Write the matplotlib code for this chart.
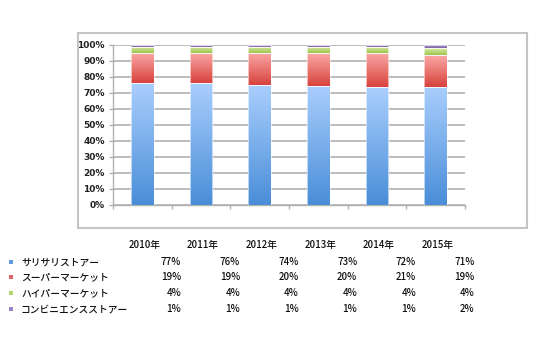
import numpy as np
import matplotlib
matplotlib.use("Agg")
import matplotlib.pyplot as plt
from matplotlib.colors import to_rgb
from matplotlib.patches import Rectangle

plt.rcParams['font.family'] = ['Noto Sans CJK JP', 'DejaVu Sans']

years = ['2010年', '2011年', '2012年', '2013年', '2014年', '2015年']
stores = ['サリサリストアー', 'スーパーマーケット', 'ハイパーマーケット', 'コンビニエンスストアー']
sari_sari = [77, 76, 74, 73, 72, 71]
supermarket = [19, 19, 20, 20, 21, 19]
hypermarket = [4, 4, 4, 4, 4, 4]
convenience = [1, 1, 1, 1, 1, 2]
series = [sari_sari, supermarket, hypermarket, convenience]

# (bottom, top) colours for the gradient fill of each series
grad = [('#4a8ed8', '#a9cefd'),
        ('#d8433d', '#fba9a7'),
        ('#9cc44c', '#dcefaa'),
        ('#7d62a8', '#bca6da')]
swatch = ['#5f9be0', '#e26664', '#b2d66a', '#9a82c8']


def gradient_bar(ax, x0, x1, y0, y1, c_bot, c_top):
    n = 64
    t = np.linspace(0, 1, n)[:, None, None]
    img = (1 - t) * np.array(to_rgb(c_bot)) + t * np.array(to_rgb(c_top))
    ax.imshow(img, extent=[x0, x1, y0, y1], origin='lower', aspect='auto',
              interpolation='bilinear', zorder=3)
    ax.add_patch(Rectangle((x0, y0), x1 - x0, y1 - y0, fill=False,
                           edgecolor='white', lw=0.6, alpha=0.7, zorder=4))


fig = plt.figure(figsize=(5.5, 3.5), dpi=100)

# outer chart frame
fig.add_artist(Rectangle((78 / 550, 1 - 228 / 350), 449 / 550, 195 / 350,
                         transform=fig.transFigure, fill=False,
                         edgecolor='#c4c4c4', lw=1.5))

ax = fig.add_axes([113 / 550, 145 / 350, 352 / 550, 160 / 350])
vals = np.array(series, dtype=float)
shares = vals / vals.sum(axis=0)
x = np.arange(len(years))
w = 0.39
bottom = np.zeros(len(years))
for k in range(len(series)):
    for i in range(len(years)):
        gradient_bar(ax, x[i] - w / 2, x[i] + w / 2, bottom[i],
                     bottom[i] + shares[k, i], grad[k][0], grad[k][1])
    bottom += shares[k]

ax.set_xlim(-0.5, len(years) - 0.5)
ax.set_ylim(0, 1)
ax.set_yticks(np.linspace(0, 1, 11))
ax.set_yticklabels([f'{int(round(v * 100))}%' for v in np.linspace(0, 1, 11)],
                   fontsize=6.5, color='#222222', family='DejaVu Sans',
                   fontweight='bold')
ax.set_xticks(np.arange(len(years) + 1) - 0.5)
ax.set_xticklabels([])
ax.tick_params(axis='y', length=3, width=1, color='#b0b0b0', pad=3)
ax.tick_params(axis='x', length=3, width=1, color='#b0b0b0', direction='out')
ax.grid(axis='y', color='#bdbdbd', lw=1.4, zorder=1)
for s in ['top', 'right']:
    ax.spines[s].set_visible(False)
for s in ['left', 'bottom']:
    ax.spines[s].set_color('#b0b0b0')
    ax.spines[s].set_linewidth(1)

# data table under the chart
to_fig = lambda px, py: (px / 550, 1 - py / 350)
txt = dict(fontsize=7, color='#111111', fontweight='medium')
col_x = [113 + 58.67 * (i + 0.5) for i in range(len(years))]
for i, yr in enumerate(years):
    fig.text(*to_fig(col_x[i] + 2, 245), yr, ha='center', va='center', **txt)
row_y = [262, 277, 293, 309]
for k, name in enumerate(stores):
    fig.add_artist(Rectangle(to_fig(9, row_y[k] + 2), 4 / 550, 4 / 350,
                             transform=fig.transFigure, color=swatch[k], lw=0))
    fig.text(*to_fig(21, row_y[k]), name, ha='left', va='center', **txt)
    for i in range(len(years)):
        fig.text(*to_fig(col_x[i] + 39, row_y[k]), f'{series[k][i]}%',
                 ha='right', va='center', **txt)

fig.savefig('out.png', dpi=100)
